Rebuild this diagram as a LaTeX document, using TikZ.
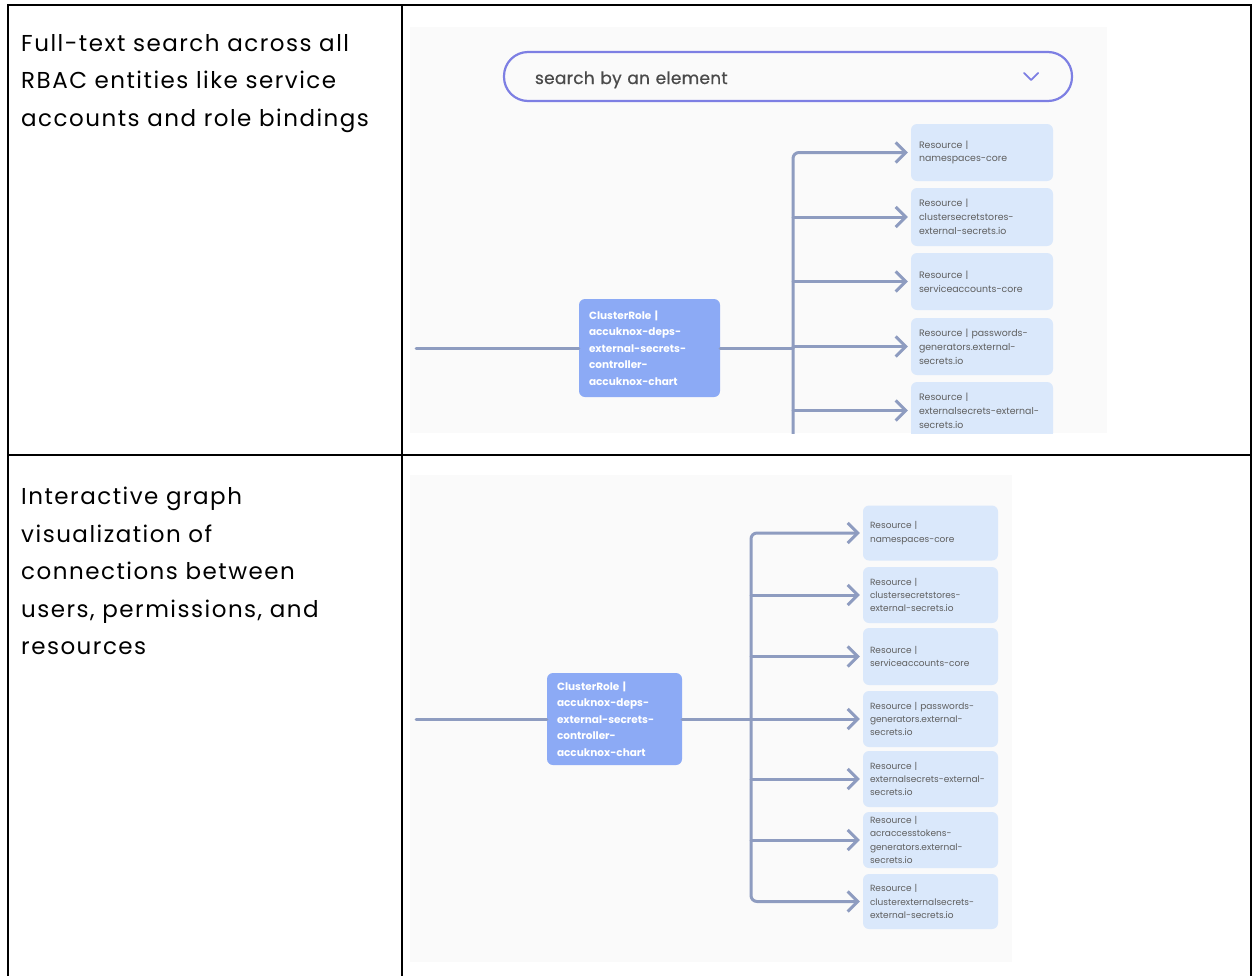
\documentclass[tikz,border=0pt]{standalone}
\usepackage{fontspec}
\setmainfont{Poppins}
\usetikzlibrary{arrows.meta}
\definecolor{edge}{HTML}{8E9CC0}
\definecolor{rolefill}{HTML}{8CAAF5}
\definecolor{resfill}{HTML}{DAE8FB}
\definecolor{restext}{HTML}{5F5F5F}
\definecolor{pill}{HTML}{7D7FE3}
\definecolor{shot}{HTML}{FAFAFA}
\definecolor{searchtext}{HTML}{4A4A4A}
\begin{document}
\begin{tikzpicture}[x=1pt,y=-1pt,
  grid/.style={line width=2pt, black, line cap=rect},
  link/.style={draw=edge, line width=3pt, line cap=round, line join=round},
  tolink/.style={link, -{Straight Barb[length=10pt,width=20pt]}, shorten >=3pt},
  rolebox/.style={fill=rolefill, rounded corners=6pt, text=white,
    font=\fontsize{10.5}{16.5}\selectfont\bfseries, align=left,
    inner xsep=10pt, inner ysep=0pt},
  resbox/.style={fill=resfill, rounded corners=6pt, text=restext,
    font=\fontsize{9.4}{13.8}\selectfont, align=left, inner xsep=8pt, inner ysep=0pt},
  resboxsmall/.style={resbox, font=\fontsize{9}{13.3}\selectfont, inner xsep=7pt},
  cell/.style={font=\fontsize{23}{37.5}\selectfont\addfontfeature{LetterSpace=6.5},
    align=left, anchor=north west, inner sep=0pt}
]
\useasboundingbox (0,0) rectangle (1252,975);
\fill[white] (0,0) rectangle (1252,975);

% ---------- first row: search and graph ----------
\begin{scope}
\clip (410,27) rectangle (1107,433);
\fill[shot] (410,27) rectangle (1107,433);
\node[draw=pill, line width=2.2pt, rounded corners=24pt, minimum height=49pt,
      text width=506pt, inner xsep=31pt, align=left, text=searchtext,
      text height=15pt, text depth=0pt,
      font=\fontsize{17}{17}\selectfont\addfontfeature{LetterSpace=1.5,FakeBold=0.6}] (search) at (788,76.5)
  {search by an element};
\draw[pill, line width=1.8pt, line cap=round, line join=round]
  ([xshift=-49pt,yshift=3.5pt]search.east) -- ([xshift=-42pt,yshift=-3.5pt]search.east)
  -- ([xshift=-35pt,yshift=3.5pt]search.east);

\node[rolebox, text width=121pt, minimum height=98pt] (c1) at (649.5,348)
  {ClusterRole |\\accuknox-deps-\\external-secrets-\\controller-\\accuknox-chart};

\node[resbox, text width=126pt, minimum height=57pt] (a1) at (982,152.5) {Resource |\\namespaces-core};
\node[resbox, text width=126pt, minimum height=58pt] (a2) at (982,217) {Resource |\\clustersecretstores-\\external-secrets.io};
\node[resbox, text width=126pt, minimum height=57pt] (a3) at (982,281.5) {Resource |\\serviceaccounts-core};
\node[resbox, text width=126pt, minimum height=57pt] (a4) at (982,346.5) {Resource | passwords-\\generators.external-\\secrets.io};
\node[resbox, text width=126pt, minimum height=57pt] (a5) at (982,410.5) {Resource |\\externalsecrets-external-\\secrets.io};

\coordinate (in1) at (416,348);
\coordinate (hub1) at (793,348);
\coordinate (foot1) at (793,445);
\draw[link] (in1) -- (c1.west);
\draw[link] (c1.east) -- (hub1);
\draw[tolink, rounded corners=6pt] (foot1) |- (a1.west);
\foreach \n in {a2,a3,a4,a5}
  \draw[tolink] (hub1 |- \n) -- (\n.west);
\end{scope}

% ---------- second row: graph ----------
\fill[shot] (410,475) rectangle (1012,962);
\node[rolebox, text width=115pt, minimum height=92pt] (c2) at (614.5,719)
  {ClusterRole |\\accuknox-deps-\\external-secrets-\\controller-\\accuknox-chart};

\node[resboxsmall, text width=121pt, minimum height=55pt] (b1) at (930.5,533) {Resource |\\namespaces-core};
\node[resboxsmall, text width=121pt, minimum height=56pt] (b2) at (930.5,595) {Resource |\\clustersecretstores-\\external-secrets.io};
\node[resboxsmall, text width=121pt, minimum height=57pt] (b3) at (930.5,656.5) {Resource |\\serviceaccounts-core};
\node[resboxsmall, text width=121pt, minimum height=56pt] (b4) at (930.5,719) {Resource | passwords-\\generators.external-\\secrets.io};
\node[resboxsmall, text width=121pt, minimum height=56pt] (b5) at (930.5,779) {Resource |\\externalsecrets-external-\\secrets.io};
\node[resboxsmall, text width=121pt, minimum height=56pt] (b6) at (930.5,840) {Resource |\\acraccesstokens-\\generators.external-\\secrets.io};
\node[resboxsmall, text width=121pt, minimum height=55pt] (b7) at (930.5,901.5) {Resource |\\clusterexternalsecrets-\\external-secrets.io};

\coordinate (in2) at (416,719);
\coordinate (hub2) at (751,719);
\draw[link] (in2) -- (c2.west);
\draw[link] (c2.east) -- (hub2);
\draw[tolink, rounded corners=6pt] (hub2) |- (b1.west);
\draw[tolink, rounded corners=6pt] (hub2) |- (b7.west);
\foreach \n in {b2,b3,b4,b5,b6}
  \draw[tolink] (hub2 |- \n) -- (\n.west);

% ---------- table ----------
\node[cell] (t1) at (21,34) {Full-text search across all\\RBAC entities like service\\accounts and role bindings};
\node[cell] (t2) at (21,487) {Interactive graph\\visualization of\\connections between\\users, permissions, and\\resources};

\draw[grid] (8,5) -- (1250.5,5);
\draw[grid] (8,455) -- (1250.5,455);
\draw[grid] (8,5) -- (8,975);
\draw[grid] (402,5) -- (402,975);
\draw[grid] (1250.5,5) -- (1250.5,975);
\end{tikzpicture}
\end{document}
